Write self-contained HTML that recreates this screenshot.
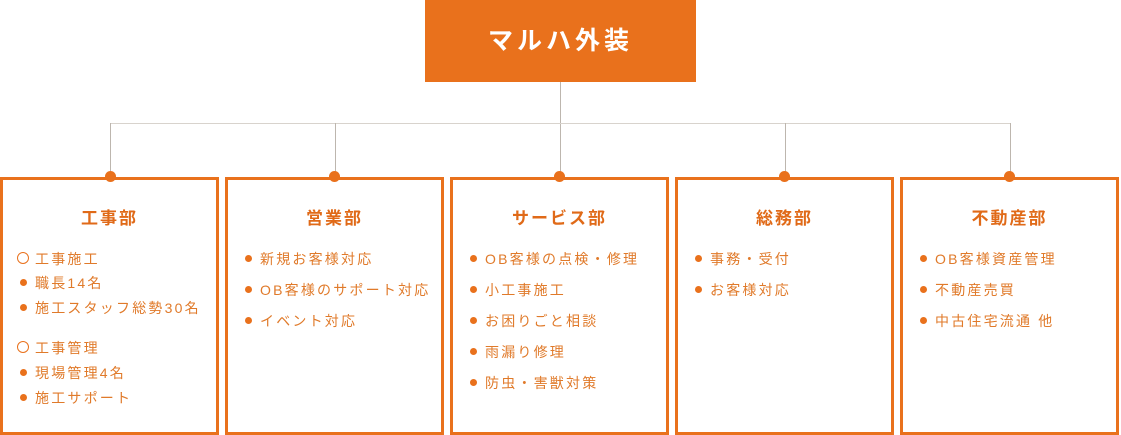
<!DOCTYPE html>
<html><head><meta charset="utf-8"><style>
body{margin:0;width:1121px;height:432px;background:#fff;position:relative;overflow:hidden;font-family:"Liberation Sans","Noto Sans CJK JP",sans-serif}
.top{position:absolute;left:425px;top:0;width:271px;height:82px;background:#e9711c;color:#fff;font-size:25px;font-weight:bold;letter-spacing:4px;text-align:center;line-height:82px}
.l{position:absolute;background:#bdb6ae}
.box{position:absolute;top:177px;width:213px;height:252px;border:3px solid #e9711c}
.dot{position:absolute;top:-9px;left:101px;width:11px;height:11px;border-radius:50%;background:#e9711c}
.t{position:absolute;top:24px;width:100%;text-align:center;font-size:17px;font-weight:bold;color:#e06a18;letter-spacing:2px}
.it{position:absolute;left:32px;font-size:14px;color:#e07a2a;letter-spacing:2.2px;white-space:nowrap}
.it.b::before{content:"";position:absolute;left:-15px;top:6px;width:7px;height:7px;border-radius:50%;background:#e9711c}
.it.c::before{content:"";position:absolute;left:-18px;top:3px;width:12px;height:12px;border-radius:50%;border:1px solid #e9711c;box-sizing:border-box}
</style></head><body>
<div class="top">マルハ外装</div>
<div class="l" style="left:560px;top:82px;width:1px;height:95px"></div>
<div class="l" style="left:110px;top:123px;width:901px;height:1px;background:#d8d3cd"></div>
<div class="l" style="left:110px;top:123px;width:1px;height:54px"></div>
<div class="l" style="left:335px;top:123px;width:1px;height:54px"></div>
<div class="l" style="left:785px;top:123px;width:1px;height:54px"></div>
<div class="l" style="left:1010px;top:123px;width:1px;height:54px"></div>

<div class="box" style="left:0">
<div class="dot" style="left:102px"></div><div class="t">工事部</div>
<div class="it c" style="top:69px">工事施工</div>
<div class="it b" style="top:93px">職長14名</div>
<div class="it b" style="top:118px">施工スタッフ総勢30名</div>
<div class="it c" style="top:158px">工事管理</div>
<div class="it b" style="top:183px">現場管理4名</div>
<div class="it b" style="top:208px">施工サポート</div>
</div>
<div class="box" style="left:225px">
<div class="dot"></div><div class="t">営業部</div>
<div class="it b" style="top:69px">新規お客様対応</div>
<div class="it b" style="top:100px">OB客様のサポート対応</div>
<div class="it b" style="top:131px">イベント対応</div>
</div>
<div class="box" style="left:450px">
<div class="dot"></div><div class="t">サービス部</div>
<div class="it b" style="top:69px">OB客様の点検・修理</div>
<div class="it b" style="top:100px">小工事施工</div>
<div class="it b" style="top:131px">お困りごと相談</div>
<div class="it b" style="top:162px">雨漏り修理</div>
<div class="it b" style="top:193px">防虫・害獣対策</div>
</div>
<div class="box" style="left:675px">
<div class="dot"></div><div class="t">総務部</div>
<div class="it b" style="top:69px">事務・受付</div>
<div class="it b" style="top:100px">お客様対応</div>
</div>
<div class="box" style="left:900px">
<div class="dot"></div><div class="t">不動産部</div>
<div class="it b" style="top:69px">OB客様資産管理</div>
<div class="it b" style="top:100px">不動産売買</div>
<div class="it b" style="top:131px">中古住宅流通 他</div>
</div>
</body></html>
